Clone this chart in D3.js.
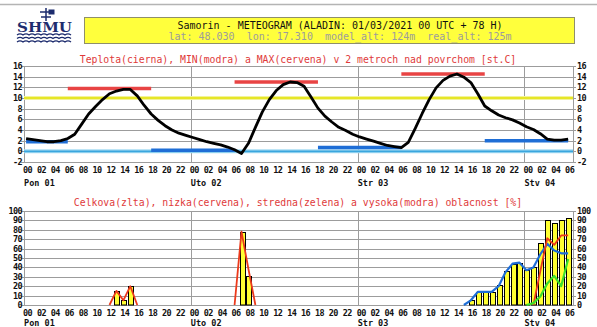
<!DOCTYPE html>
<html lang="sk">
<head>
<meta charset="UTF-8">
<title>Samorin - meteogram</title>
<script src="https://cdn.jsdelivr.net/npm/d3@7"></script>
<style>
  body { margin: 0; background: #fff; }
  svg { display: block; }
  .mono { font-family: "DejaVu Sans Mono", "Liberation Mono", monospace; }
  .tick { font-size: 8.5px; font-weight: bold; fill: #111; letter-spacing: -0.6px; }
  .day { font-size: 8.5px; font-weight: bold; fill: #111; }
  .title { font-size: 9.8px; fill: #e03a3a; }
</style>
</head>
<body>
<svg id="chart" width="597" height="327"></svg>
<script>
// forecast hours, 00 UTC Monday 01 .. +78 h
const hours = d3.range(0, 79);
const dayNames = ["Pon 01", "Uto 02", "Str 03", "Stv 04"];
const tempTicks = [-2, 0, 2, 4, 6, 8, 10, 12, 14, 16];
const cloudTicks = [0, 10, 20, 30, 40, 50, 60, 70, 80, 90, 100];

// 2 m temperature [st.C], hourly
const temperature = [
  2.4, 2.2, 2.0, 1.8, 1.8, 2.0, 2.4, 3.2, 5.1, 7.0, 8.4, 9.7, 10.8, 11.3, 11.6, 11.6, 10.4, 8.6, 7.0, 5.8, 4.8, 4.0, 3.4, 3.0,
  2.6, 2.2, 1.8, 1.5, 1.2, 0.8, 0.3, -0.4, 1.5, 4.5, 7.4, 9.7, 11.4, 12.5, 13.0, 12.9, 12.2, 10.2, 8.1, 6.6, 5.5, 4.5, 3.9, 3.2,
  2.7, 2.3, 1.9, 1.5, 1.1, 0.9, 0.7, 1.7, 4.3, 7.1, 9.7, 11.9, 13.3, 14.1, 14.5, 13.9, 12.9, 10.8, 8.5, 7.6, 6.8, 6.3, 5.9, 5.3,
  4.6, 4.1, 3.3, 2.3, 2.1, 2.1, 2.3
];

// night minima (18-06) and day maxima (06-18)
const minSpans = [[0, 6], [18, 30], [42, 54], [66, 78]];
const minValues = [1.8, 0.2, 0.7, 2.0];
const maxSpans = [[6, 18], [30, 42], [54, 66]];
const maxValues = [11.8, 13.0, 14.5];

// cloudiness [%], hourly
const cloudTotal = [
  0, 0, 0, 0, 0, 0, 0, 0, 0, 0, 0, 0, 0, 15, 5, 20, 0, 0, 0, 0, 0, 0, 0, 0,
  0, 0, 0, 0, 0, 0, 0, 78, 31, 0, 0, 0, 0, 0, 0, 0, 0, 0, 0, 0, 0, 0, 0, 0,
  0, 0, 0, 0, 0, 0, 0, 0, 0, 0, 0, 0, 0, 0, 0, 0, 5, 14, 14, 14, 21, 36, 44, 45,
  37, 40, 66, 90, 87, 90, 93
];
const cloudLow = [
  0, 0, 0, 0, 0, 0, 0, 0, 0, 0, 0, 0, 0, 15, 5, 20, 0, 0, 0, 0, 0, 0, 0, 0,
  0, 0, 0, 0, 0, 0, 0, 78, 38, 0, 0, 0, 0, 0, 0, 0, 0, 0, 0, 0, 0, 0, 0, 0,
  0, 0, 0, 0, 0, 0, 0, 0, 0, 0, 0, 0, 0, 0, 0, 0, 0, 0, 0, 0, 0, 0, 0, 0,
  0, 0, 36, 71, 64, 74, 74
];
const cloudMid = [
  0, 0, 0, 0, 0, 0, 0, 0, 0, 0, 0, 0, 0, 0, 0, 0, 0, 0, 0, 0, 0, 0, 0, 0,
  0, 0, 0, 0, 0, 0, 0, 0, 0, 0, 0, 0, 0, 0, 0, 0, 0, 0, 0, 0, 0, 0, 0, 0,
  0, 0, 0, 0, 0, 0, 0, 0, 0, 0, 0, 0, 0, 0, 0, 0, 0, 0, 0, 0, 0, 0, 0, 0,
  0, 2, 9, 23, 31, 20, 49
];
const cloudHigh = [
  0, 0, 0, 0, 0, 0, 0, 0, 0, 0, 0, 0, 0, 0, 0, 0, 0, 0, 0, 0, 0, 0, 0, 0,
  0, 0, 0, 0, 0, 0, 0, 0, 0, 0, 0, 0, 0, 0, 0, 0, 0, 0, 0, 0, 0, 0, 0, 0,
  0, 0, 0, 0, 0, 0, 0, 0, 0, 0, 0, 0, 0, 0, 0, 0, 5, 14, 14, 14, 20, 35, 44, 45,
  37, 40, 54, 65, 58, 55, 55
];

const svg = d3.select('#chart');
const x = d3.scaleLinear().domain([-0.3, 78.7]).range([24, 573]);
const yT = d3.scaleLinear().domain([-2, 16]).range([162, 66]);
const yC = d3.scaleLinear().domain([0, 100]).range([305, 211]);

// ---- header ----
svg.append('line').attr('x1', 0).attr('x2', 597).attr('y1', 4.5).attr('y2', 4.5)
  .attr('stroke', '#b4b4b4').attr('stroke-width', 1.5);

svg.append('rect').attr('x', 84.5).attr('y', 17.5).attr('width', 490).attr('height', 26)
  .attr('fill', '#ffff3c').attr('stroke', '#8f8f6a');
svg.append('text').attr('class', 'mono').attr('x', 340).attr('y', 28.5)
  .attr('text-anchor', 'middle').style('font-size', '10px').attr('fill', '#111')
  .text('Samorin - METEOGRAM (ALADIN: 01/03/2021 00 UTC + 78 H)');
svg.append('text').attr('class', 'mono').attr('x', 340).attr('y', 40)
  .attr('text-anchor', 'middle').style('font-size', '10px').attr('fill', '#9c9c9c')
  .attr('xml:space', 'preserve')
  .text('lat: 48.030  lon: 17.310  model_alt: 124m  real_alt: 125m');

// logo: vane, lettering and waves
const logo = svg.append('g').attr('fill', 'none').attr('stroke', '#1d2c6e');
logo.append('path').attr('stroke-width', 1.5)
  .attr('d', 'M46,8V21 M40,12H53 M41,17H51');
logo.append('rect').attr('x', 49).attr('y', 10).attr('width', 5).attr('height', 4).attr('fill', '#1d2c6e');
logo.append('text').attr('x', 17).attr('y', 32).attr('stroke', 'none').attr('fill', '#1d2c6e')
  .attr('textLength', 55).attr('lengthAdjust', 'spacingAndGlyphs')
  .style('font', 'bold 13px "DejaVu Serif", serif').text('SHMU');
[35, 38.5, 42].forEach(yy => {
  let d = `M17,${yy}`;
  for (let k = 0; k < 9; k++) d += ` q3,-2.2 6,0`;
  logo.append('path').attr('d', d).attr('stroke-width', 1.3);
});

// ---- common frame: grid, ticks, labels ----
function frame(y, ticks, top, bottom, tickY, dayY) {
  const g = svg.append('g');
  ticks.forEach(t => {
    const yy = Math.round(y(t)) + 0.5;
    g.append('line').attr('x1', 21).attr('x2', 576).attr('y1', yy).attr('y2', yy)
      .attr('stroke', '#9c9c9c').attr('shape-rendering', 'crispEdges');
    g.append('text').attr('class', 'mono tick').attr('x', 22).attr('y', yy)
      .attr('dy', '0.35em').attr('text-anchor', 'end').text(t);
    g.append('text').attr('class', 'mono tick').attr('x', 577).attr('y', yy)
      .attr('dy', '0.35em').text(t);
  });
  [24, 573].forEach(xx => {
    g.append('line').attr('x1', xx + 0.5).attr('x2', xx + 0.5).attr('y1', top).attr('y2', bottom)
      .attr('stroke', '#9c9c9c').attr('shape-rendering', 'crispEdges');
  });
  [24, 48, 72].forEach(h => {
    const xx = Math.round(x(h)) - 1.5;
    g.append('line').attr('x1', xx).attr('x2', xx).attr('y1', top).attr('y2', bottom)
      .attr('stroke', '#9c9c9c').attr('shape-rendering', 'crispEdges');
  });
  hours.filter(h => h % 2 === 0).forEach(h => {
    g.append('text').attr('class', 'mono tick').attr('x', x(h) + 1.5).attr('y', tickY)
      .attr('text-anchor', 'middle').text(String(h % 24).padStart(2, '0'));
  });
  dayNames.forEach((name, i) => {
    g.append('text').attr('class', 'mono day').attr('x', x(i * 24) - 2).attr('y', dayY)
      .attr('xml:space', 'preserve').text(name);
  });
}

// ---- temperature panel ----
svg.append('text').attr('class', 'mono title').attr('x', 298).attr('y', 63)
  .attr('text-anchor', 'middle')
  .text('Teplota(cierna), MIN(modra) a MAX(cervena) v 2 metroch nad povrchom [st.C]');
frame(yT, tempTicks, 66, 162, 172.5, 186);

// reference lines at 10 and 0 degrees
[[10, '#f3f39a', '#e2e200'], [0, '#a9dcf3', '#3aa6de']].forEach(([v, halo, core]) => {
  svg.append('line').attr('x1', 24).attr('x2', 573).attr('y1', yT(v)).attr('y2', yT(v))
    .attr('stroke', halo).attr('stroke-width', 4);
  svg.append('line').attr('x1', 24).attr('x2', 573).attr('y1', yT(v)).attr('y2', yT(v))
    .attr('stroke', core).attr('stroke-width', 1.6);
});

minSpans.forEach(([a, b], i) => {
  svg.append('line').attr('x1', x(a)).attr('x2', x(b))
    .attr('y1', yT(minValues[i])).attr('y2', yT(minValues[i]))
    .attr('stroke', '#1f6ed6').attr('stroke-width', 3.5);
});
maxSpans.forEach(([a, b], i) => {
  svg.append('line').attr('x1', x(a)).attr('x2', x(b))
    .attr('y1', yT(maxValues[i])).attr('y2', yT(maxValues[i]))
    .attr('stroke', '#e84444').attr('stroke-width', 3.5);
});

svg.append('path').datum(hours)
  .attr('d', d3.line().x(h => x(h)).y(h => yT(temperature[h])))
  .attr('fill', 'none').attr('stroke', '#000').attr('stroke-width', 2.8)
  .attr('stroke-linejoin', 'round');

// ---- cloud panel ----
svg.append('text').attr('class', 'mono title').attr('x', 298).attr('y', 206)
  .attr('text-anchor', 'middle')
  .text('Celkova(zlta), nizka(cervena), stredna(zelena) a vysoka(modra) oblacnost [%]');
frame(yC, cloudTicks, 211, 305, 316, 326);

svg.append('g').selectAll('rect')
  .data(hours.filter(h => cloudTotal[h] > 0))
  .join('rect')
  .attr('x', h => Math.round(x(h)) - 1.5)
  .attr('y', h => Math.round(yC(cloudTotal[h])) + 0.5)
  .attr('width', 5)
  .attr('height', h => yC(0) - Math.round(yC(cloudTotal[h])) - 0.5)
  .attr('fill', '#ffff33').attr('stroke', '#000').attr('stroke-width', 1);

// only the stretches that touch a non-zero hour are drawn
function runsOf(values) {
  const runs = [];
  let cur = null;
  for (let i = 0; i < values.length - 1; i++) {
    if (values[i] > 0 || values[i + 1] > 0) {
      if (!cur) { cur = [[i, values[i]]]; runs.push(cur); }
      cur.push([i + 1, values[i + 1]]);
    } else cur = null;
  }
  return runs;
}

const cloudLine = d3.line().x(d => x(d[0])).y(d => yC(d[1]));
[[cloudHigh, '#1f6ed6', 2.2], [cloudLow, '#ec3a1c', 1.8], [cloudMid, '#3ee02a', 2.2]].forEach(([vals, col, w]) => {
  svg.append('g').selectAll('path')
    .data(runsOf(vals))
    .join('path')
    .attr('d', cloudLine)
    .attr('fill', 'none').attr('stroke', col).attr('stroke-width', w)
    .attr('stroke-linejoin', 'round');
});
</script>
</body>
</html>
